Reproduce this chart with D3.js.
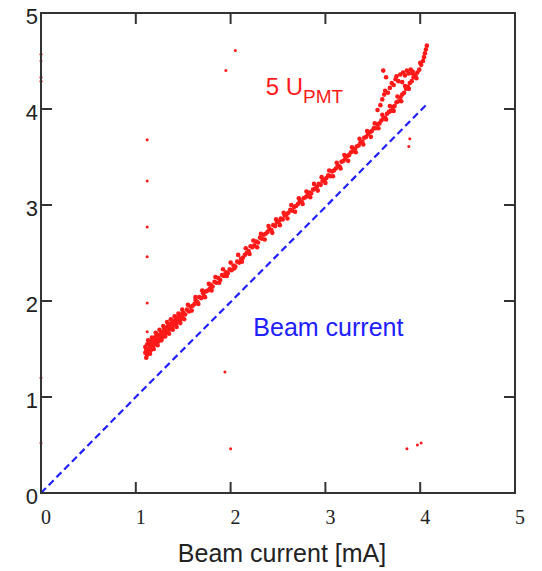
<!DOCTYPE html>
<html>
<head>
<meta charset="utf-8">
<script src="https://cdn.jsdelivr.net/npm/d3@7"></script>
<style>
  body { margin: 0; background: #fff; }
  svg { display: block; }
</style>
</head>
<body>
<div id="chart"></div>
<script>
// tick values
const xTicks = [0, 1, 2, 3, 4, 5];
const yTicks = [0, 1, 2, 3, 4, 5];

// beam current trace (blue dashed)
const beamCurrent = [[0, 0], [1.1, 1.1], [2.0, 1.99], [3.0, 2.98], [4.07, 4.05]];

// 5*U_PMT main band (red)
const upmtBand = [
  [1.10,1.46],[1.10,1.52],[1.11,1.49],[1.12,1.44],[1.12,1.55],[1.13,1.50],[1.14,1.47],[1.14,1.56],
  [1.15,1.52],[1.16,1.58],[1.16,1.49],[1.17,1.54],[1.18,1.60],[1.18,1.52],[1.19,1.57],[1.20,1.55],
  [1.20,1.62],[1.21,1.59],[1.22,1.56],[1.22,1.64],[1.23,1.61],[1.24,1.58],[1.25,1.65],[1.25,1.61],
  [1.26,1.63],[1.27,1.67],[1.28,1.62],[1.29,1.68],[1.30,1.65],[1.30,1.71],[1.31,1.68],[1.32,1.72],
  [1.33,1.67],[1.34,1.74],[1.35,1.70],[1.36,1.76],[1.37,1.72],[1.38,1.77],[1.39,1.74],[1.40,1.79],
  [1.41,1.76],[1.42,1.81],[1.43,1.77],[1.44,1.83],[1.45,1.80],[1.46,1.84],[1.47,1.81],[1.48,1.86],
  [1.49,1.83],[1.50,1.88],
  [1.52,1.86],[1.54,1.91],[1.56,1.89],[1.58,1.94],[1.60,1.95],[1.62,1.97],[1.63,2.01],[1.65,1.99],
  [1.67,2.04],[1.69,2.03],[1.71,2.08],[1.72,2.05],[1.74,2.10],[1.76,2.11],[1.78,2.13],[1.79,2.17],
  [1.81,2.15],[1.83,2.20],[1.85,2.19],[1.87,2.24],[1.89,2.22],[1.91,2.27],[1.93,2.26],[1.95,2.30],
  [1.97,2.29],[1.99,2.33],[2.01,2.32],[2.03,2.37],[2.05,2.36],[2.07,2.41],[2.09,2.40],[2.11,2.44],
  [2.13,2.45],[2.15,2.48],[2.17,2.50],[2.19,2.52],[2.21,2.57],
  [2.23,2.56],[2.25,2.58],[2.27,2.62],[2.29,2.61],[2.31,2.66],[2.33,2.65],[2.35,2.69],[2.37,2.70],
  [2.39,2.72],[2.41,2.75],[2.43,2.74],[2.45,2.79],[2.47,2.78],[2.49,2.82],[2.51,2.83],[2.53,2.86],
  [2.55,2.85],[2.57,2.89],[2.59,2.90],[2.61,2.92],[2.63,2.95],[2.65,2.94],[2.67,2.98],[2.69,2.99],
  [2.71,3.01],[2.73,3.04],[2.75,3.03],[2.77,3.07],[2.79,3.08],[2.81,3.10],[2.83,3.13],[2.85,3.12],
  [2.87,3.16],[2.89,3.17],[2.91,3.19],[2.93,3.22],
  [2.95,3.21],[2.97,3.25],[2.99,3.26],[3.01,3.28],[3.03,3.31],[3.05,3.30],[3.07,3.35],[3.09,3.36],
  [3.11,3.38],[3.13,3.41],[3.15,3.40],[3.17,3.45],[3.19,3.46],[3.21,3.48],[3.23,3.51],[3.25,3.52],
  [3.27,3.55],[3.29,3.56],[3.31,3.58],[3.33,3.61],[3.35,3.62],[3.37,3.65],[3.39,3.66],
  [3.41,3.70],[3.43,3.71],[3.45,3.74],[3.47,3.76],[3.49,3.77],[3.51,3.80],[3.53,3.80],[3.55,3.84],
  [3.57,3.85],[3.59,3.88],[3.61,3.90],[3.63,3.91],[3.65,3.95],[3.67,3.97],[3.69,3.98],[3.71,4.02],
  [3.73,4.03],[3.75,4.07],[3.77,4.08],[3.79,4.12],[3.81,4.15],[3.83,4.17],[3.85,4.21],[3.87,4.23],
  [3.89,4.27],[3.91,4.29],[3.93,4.33],[3.95,4.35],[3.97,4.38],[3.99,4.41],[4.01,4.46],[4.03,4.50],
  [4.04,4.54],[4.05,4.58],[4.06,4.62],[4.07,4.66]
];

// scatter around the band edges
const upmtSpread = [
  [1.11,1.41],[1.13,1.59],[1.15,1.45],[1.17,1.62],[1.19,1.50],[1.21,1.67],[1.23,1.54],[1.25,1.70],
  [1.27,1.59],[1.29,1.74],[1.31,1.63],[1.33,1.78],[1.35,1.66],[1.37,1.81],[1.39,1.70],[1.41,1.84],
  [1.43,1.73],[1.45,1.87],[1.47,1.77],[1.49,1.91],[1.51,1.81],
  [1.55,1.96],[1.59,1.90],[1.63,2.04],[1.66,1.97],[1.70,2.11],[1.73,2.04],[1.77,2.18],[1.80,2.11],
  [1.84,2.25],[1.88,2.19],[1.92,2.33],[1.96,2.26],[2.00,2.40],[2.04,2.34],[2.08,2.48],[2.12,2.41],
  [2.16,2.55],[2.20,2.49],[2.24,2.63],[2.28,2.56],[2.32,2.70],[2.36,2.64],[2.40,2.78],[2.44,2.71],
  [2.48,2.85],[2.52,2.79],[2.56,2.92],[2.60,2.86],[2.64,3.00],[2.68,2.93],[2.72,3.07],[2.76,3.01],
  [2.80,3.14],[2.84,3.08],[2.88,3.22],[2.92,3.15],[2.96,3.29],[3.00,3.23],[3.04,3.36],[3.08,3.30],
  [3.12,3.44],[3.16,3.38],[3.20,3.52],[3.24,3.46],[3.28,3.60],[3.32,3.55],[3.36,3.69],[3.40,3.63],
  [3.44,3.77],[3.48,3.71],[3.52,3.85],[3.56,3.80],[3.60,3.94],[3.64,3.89],[3.68,4.03],[3.72,3.98],
  [3.76,4.13],[3.80,4.08],[3.84,4.24],[3.88,4.21],[3.92,4.37],[3.96,4.32],[4.00,4.48]
];

// upper scattered branch near the end
const upmtUpper = [
  [3.55,3.99],[3.58,4.04],[3.60,4.10],[3.62,4.15],[3.63,4.19],[3.66,4.17],[3.68,4.22],[3.70,4.27],
  [3.72,4.25],[3.74,4.31],[3.75,4.34],[3.77,4.29],[3.79,4.36],[3.81,4.28],[3.82,4.38],[3.84,4.35],
  [3.86,4.40],[3.88,4.37],[3.90,4.41],[3.92,4.39],[3.61,4.40],[3.64,4.33]
];

// isolated red points
const upmtOutliers = [
  [0,4.57],[0,4.50],[0,4.33],[0,4.29],[0,1.20],[0,0.52],
  [1.12,3.68],[1.12,3.25],[1.12,2.77],[1.12,2.46],[1.12,1.98],[1.12,1.68],
  [1.95,4.40],[2.05,4.61],[1.94,1.26],[2.00,0.46],
  [3.86,0.46],[3.97,0.50],[4.01,0.52],[3.89,3.69],[3.88,3.61]
];

const width = 542;
const height = 571;

const svg = d3.select("#chart")
  .append("svg")
  .attr("width", width)
  .attr("height", height);

svg.append("rect").attr("width", width).attr("height", height).attr("fill", "#fff");

const x = d3.scaleLinear().domain([0, 5]).range([41, 515]);
const y = d3.scaleLinear().domain([0, 5]).range([493, 13]);

const frameColor = "#333";
const red = "#ff1a1a";
const blue = "#2020ff";

// beam current dashed line
svg.append("path")
  .datum(beamCurrent)
  .attr("fill", "none")
  .attr("stroke", blue)
  .attr("stroke-width", 2.2)
  .attr("stroke-dasharray", "7,4")
  .attr("d", d3.line().x(d => x(d[0])).y(d => y(d[1])));

// red points
const allRed = upmtBand.concat(upmtSpread, upmtUpper);
svg.append("g")
  .selectAll("circle")
  .data(allRed)
  .enter()
  .append("circle")
  .attr("cx", d => x(d[0]))
  .attr("cy", d => y(d[1]))
  .attr("r", 2.3)
  .attr("fill", red);

svg.append("g")
  .selectAll("circle")
  .data(upmtOutliers)
  .enter()
  .append("circle")
  .attr("cx", d => x(d[0]))
  .attr("cy", d => y(d[1]))
  .attr("r", 1.5)
  .attr("fill", red);

// frame
svg.append("rect")
  .attr("x", x(0))
  .attr("y", y(5))
  .attr("width", x(5) - x(0))
  .attr("height", y(0) - y(5))
  .attr("fill", "none")
  .attr("stroke", frameColor)
  .attr("stroke-width", 2);

// inner ticks on all four sides
const tickLen = 11;
const inner = [1, 2, 3, 4];
const ticks = svg.append("g").attr("stroke", frameColor).attr("stroke-width", 2);
inner.forEach(v => {
  ticks.append("line").attr("x1", x(v)).attr("x2", x(v)).attr("y1", y(0)).attr("y2", y(0) - tickLen);
  ticks.append("line").attr("x1", x(v)).attr("x2", x(v)).attr("y1", y(5)).attr("y2", y(5) + tickLen);
  ticks.append("line").attr("y1", y(v)).attr("y2", y(v)).attr("x1", x(0)).attr("x2", x(0) + tickLen);
  ticks.append("line").attr("y1", y(v)).attr("y2", y(v)).attr("x1", x(5)).attr("x2", x(5) - tickLen);
});

// tick labels
svg.append("g")
  .selectAll("text")
  .data(xTicks)
  .enter()
  .append("text")
  .attr("x", d => x(d) + 5)
  .attr("y", 524)
  .attr("text-anchor", "middle")
  .attr("font-family", "'Liberation Serif', 'Times New Roman', serif")
  .attr("font-size", 20)
  .attr("fill", "#222")
  .text(d => d);

svg.append("g")
  .selectAll("text")
  .data(yTicks)
  .enter()
  .append("text")
  .attr("x", 38)
  .attr("y", d => y(d) + 11)
  .attr("text-anchor", "end")
  .attr("font-family", "'Liberation Sans', Arial, sans-serif")
  .attr("font-size", 22)
  .attr("fill", "#222")
  .text(d => d);

// axis title
svg.append("text")
  .attr("x", 282)
  .attr("y", 562)
  .attr("text-anchor", "middle")
  .attr("font-family", "'Liberation Sans', Arial, sans-serif")
  .attr("font-size", 25)
  .attr("fill", "#222")
  .text("Beam current [mA]");

// series annotations
const upmtLabel = svg.append("text")
  .attr("x", x(2.37))
  .attr("y", y(4.15))
  .attr("font-family", "'Liberation Sans', Arial, sans-serif")
  .attr("font-size", 24)
  .attr("fill", red);
upmtLabel.append("tspan").text("5 U");
upmtLabel.append("tspan").attr("dy", 8).attr("font-size", 19).text("PMT");

svg.append("text")
  .attr("x", x(2.24))
  .attr("y", y(1.64))
  .attr("font-family", "'Liberation Sans', Arial, sans-serif")
  .attr("font-size", 25)
  .attr("fill", blue)
  .text("Beam current");
</script>
</body>
</html>
